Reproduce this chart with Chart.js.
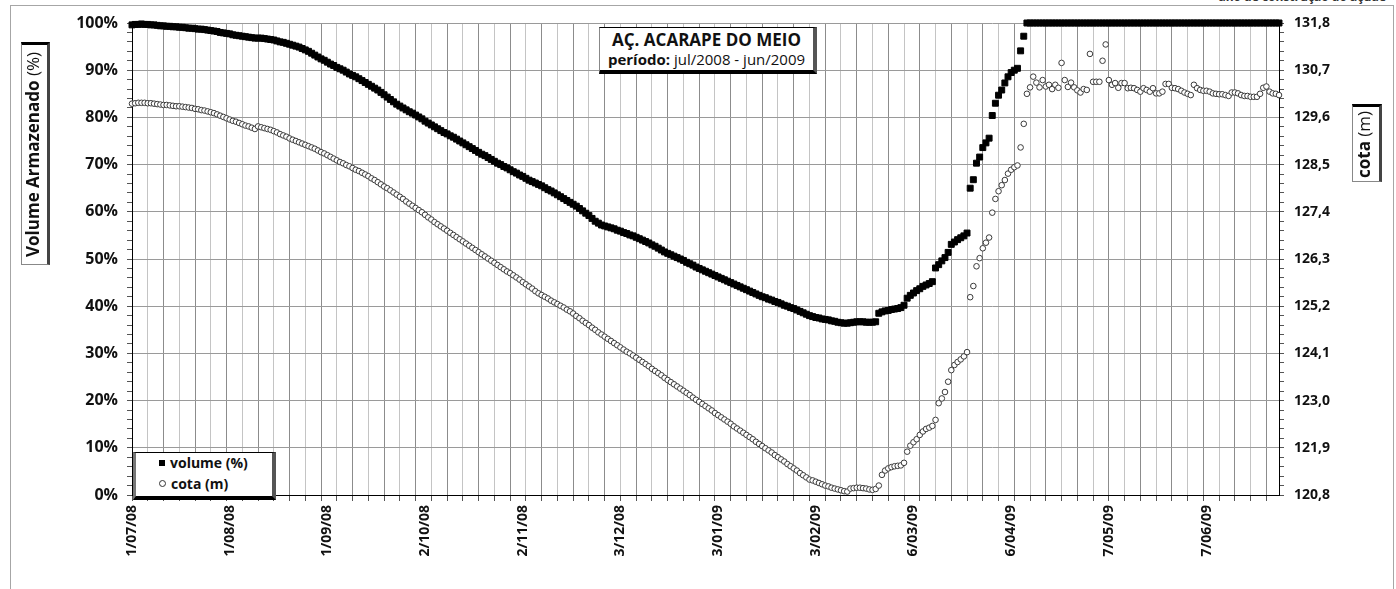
<!DOCTYPE html>
<html>
<head>
<meta charset="utf-8">
<title>Açude Acarape do Meio</title>
<script src="https://cdn.jsdelivr.net/npm/chart.js@4.4.1/dist/chart.umd.min.js"></script>
<style>
  body { margin: 0; background: #fff; }
  #wrap { position: relative; width: 1396px; height: 589px; overflow: hidden; font-family: "Open Sans", "Noto Sans", sans-serif; color: #111; }
  #chart { position: absolute; left: 0; top: 0; }
  .frame { position: absolute; left: 10px; top: 5px; width: 1382px; height: 620px; border: 1px solid #a6a6a6; }
  .topnote { position: absolute; right: 10px; top: -12px; font-size: 12px; font-weight: 700; color: #333; }
  .title-box { position: absolute; left: 599px; top: 27px; width: 213px; height: 42px; background: #fff;
    border-top: 1px solid #000; border-left: 1px solid #888; border-right: 4px solid #555; border-bottom: 4px solid #000; text-align: center; }
  .title-box .l1 { font-weight: 700; font-size: 17px; line-height: 20px; margin-top: 2px; }
  .title-box .l2 { font-size: 15px; line-height: 19px; }
  .legend-box { position: absolute; left: 133px; top: 452px; width: 136px; height: 43px; background: #fff;
    border-top: 1px solid #000; border-left: 3px solid #777; border-right: 4px solid #555; border-bottom: 4px solid #000; }
  .legend-box .row { position: absolute; left: 23px; font-size: 14px; font-weight: 700; line-height: 18px; white-space: nowrap; }
  .legend-box .sq { display: inline-block; width: 6px; height: 6px; background: #000; margin-right: 5px; vertical-align: 2px; }
  .legend-box .ci { display: inline-block; width: 5px; height: 5px; border: 1px solid #333; border-radius: 50%; margin-right: 5px; vertical-align: 2px; }
  .axis-title { position: absolute; writing-mode: vertical-rl; transform: rotate(180deg); background: #fff; text-align: center;
    font-size: 17px; line-height: 22px; white-space: nowrap;
    border-bottom: 3px solid #000; border-left: 3px solid #444; border-right: 1px solid #888; border-top: 1px solid #888; }
  .axis-title b { font-weight: 700; }
</style>
</head>
<body>
<div id="wrap">
  <div class="frame"></div>
  <div class="topnote">ano de construção do açude</div>
  <canvas id="chart" width="1396" height="589"></canvas>
  <div class="title-box">
    <div class="l1">AÇ. ACARAPE DO MEIO</div>
    <div class="l2"><b>período:</b> jul/2008 - jun/2009</div>
  </div>
  <div class="legend-box">
    <div class="row" style="top:1px"><span class="sq"></span>volume (%)</div>
    <div class="row" style="top:22px"><span class="ci"></span>cota (m)</div>
  </div>
  <div class="axis-title" style="left:21px; top:42px; width:25px; height:219px;"><b>Volume Armazenado</b> (%)</div>
  <div class="axis-title" style="left:1352px; top:104px; width:26px; height:74px;"><b>cota</b> (m)</div>
</div>
<script>
// daily readings, 1/07/2008 .. 30/06/2009
const startDay = Date.UTC(2008, 6, 1);
const dayCount = 365;

const xTickLabels = ["1/07/08", "1/08/08", "1/09/08", "2/10/08", "2/11/08", "3/12/08",
  "3/01/09", "3/02/09", "6/03/09", "6/04/09", "7/05/09", "7/06/09"];
const leftTickLabels = ["0%", "10%", "20%", "30%", "40%", "50%", "60%", "70%", "80%", "90%", "100%"];
const rightTickLabels = ["120,8", "121,9", "123,0", "124,1", "125,2", "126,3", "127,4", "128,5", "129,6", "130,7", "131,8"];

// volume armazenado (%)
const volume = [
  99.6,99.7,99.7,99.8,99.7,99.7,99.6,99.6,99.5,99.4,
  99.4,99.3,99.3,99.2,99.2,99.1,99.1,99.0,98.9,98.9,
  98.8,98.7,98.7,98.6,98.5,98.4,98.3,98.2,98.0,97.9,
  97.8,97.7,97.5,97.4,97.3,97.2,97.1,97.0,96.9,96.8,
  96.8,96.8,96.7,96.6,96.5,96.4,96.2,96.0,95.9,95.7,
  95.5,95.3,95.1,94.9,94.6,94.3,94.0,93.6,93.2,92.8,
  92.4,92.1,91.7,91.3,91.0,90.6,90.3,90.0,89.6,89.2,
  88.9,88.6,88.2,87.8,87.4,87.0,86.6,86.2,85.8,85.3,
  84.8,84.3,83.8,83.3,82.8,82.4,82.0,81.6,81.2,80.9,
  80.5,80.1,79.7,79.2,78.8,78.4,78.0,77.6,77.2,76.8,
  76.5,76.1,75.8,75.4,75.0,74.6,74.2,73.8,73.4,73.0,
  72.6,72.2,71.9,71.5,71.1,70.7,70.3,70.0,69.6,69.3,
  68.9,68.5,68.2,67.8,67.5,67.1,66.7,66.4,66.1,65.8,
  65.5,65.1,64.7,64.4,64.0,63.6,63.2,62.8,62.4,62.0,
  61.6,61.2,60.7,60.2,59.7,59.2,58.6,58.0,57.6,57.2,
  57.0,56.8,56.6,56.4,56.1,55.9,55.6,55.4,55.1,54.9,
  54.6,54.3,54.0,53.7,53.4,53.0,52.7,52.3,51.9,51.5,
  51.2,50.9,50.6,50.3,50.0,49.7,49.3,49.0,48.7,48.3,
  48.0,47.7,47.4,47.1,46.8,46.5,46.2,45.9,45.6,45.3,
  45.0,44.7,44.4,44.1,43.8,43.5,43.2,42.9,42.6,42.3,
  42.0,41.8,41.5,41.3,41.0,40.8,40.5,40.2,40.0,39.7,
  39.5,39.2,38.9,38.6,38.3,38.0,37.8,37.6,37.5,37.3,
  37.2,37.1,36.9,36.8,36.6,36.5,36.4,36.4,36.5,36.6,
  36.7,36.7,36.7,36.6,36.6,36.6,36.7,38.5,38.8,39.0,
  39.1,39.3,39.4,39.5,39.7,40.2,41.7,42.3,42.8,43.3,
  43.7,44.2,44.5,44.8,45.2,48.1,48.8,49.6,50.3,51.4,
  53.1,53.6,54.1,54.5,54.9,55.5,65.0,66.8,70.3,71.6,
  73.6,74.6,75.6,80.4,83.0,84.7,85.8,87.3,88.6,89.5,
  90.0,90.4,94.1,97.2,100,100,100,100,100,100,
  100,100,100,100,100,100,100,100,100,100,
  100,100,100,100,100,100,100,100,100,100,
  100,100,100,100,100,100,100,100,100,100,
  100,100,100,100,100,100,100,100,100,100,
  100,100,100,100,100,100,100,100,100,100,
  100,100,100,100,100,100,100,100,100,100,
  100,100,100,100,100,100,100,100,100,100,
  100,100,100,100,100
];

// cota (m)
const cota = [
  129.92,129.93,129.94,129.94,129.94,129.93,129.93,129.92,129.91,129.90,
  129.89,129.89,129.88,129.87,129.86,129.86,129.85,129.84,129.83,129.82,
  129.80,129.79,129.77,129.76,129.74,129.72,129.70,129.67,129.64,129.61,
  129.58,129.55,129.52,129.50,129.47,129.44,129.41,129.39,129.36,129.33,
  129.39,129.37,129.35,129.33,129.31,129.28,129.25,129.21,129.18,129.15,
  129.11,129.08,129.05,129.02,128.99,128.96,128.93,128.90,128.87,128.83,
  128.79,128.76,128.72,128.68,128.64,128.60,128.56,128.53,128.49,128.46,
  128.42,128.38,128.35,128.31,128.27,128.23,128.18,128.14,128.09,128.04,
  127.99,127.95,127.90,127.85,127.80,127.75,127.70,127.64,127.59,127.54,
  127.49,127.44,127.39,127.33,127.27,127.22,127.16,127.11,127.06,127.01,
  126.96,126.91,126.86,126.81,126.76,126.71,126.66,126.61,126.56,126.51,
  126.46,126.41,126.36,126.31,126.26,126.21,126.16,126.11,126.06,126.01,
  125.97,125.92,125.87,125.82,125.76,125.71,125.66,125.61,125.55,125.50,
  125.46,125.42,125.38,125.33,125.29,125.25,125.21,125.17,125.12,125.08,
  125.03,124.97,124.92,124.86,124.81,124.76,124.70,124.65,124.59,124.54,
  124.49,124.44,124.39,124.34,124.29,124.24,124.19,124.14,124.10,124.05,
  124.00,123.95,123.90,123.85,123.80,123.74,123.69,123.64,123.59,123.53,
  123.48,123.43,123.38,123.33,123.28,123.23,123.18,123.13,123.07,123.02,
  122.97,122.92,122.87,122.82,122.77,122.71,122.66,122.61,122.56,122.51,
  122.46,122.40,122.35,122.30,122.25,122.20,122.15,122.10,122.04,121.99,
  121.94,121.89,121.84,121.79,121.73,121.68,121.63,121.58,121.52,121.47,
  121.42,121.37,121.31,121.26,121.21,121.16,121.14,121.11,121.08,121.05,
  121.02,121.00,120.97,120.95,120.93,120.91,120.89,120.88,120.95,120.96,
  120.97,120.97,120.96,120.95,120.93,120.92,120.94,121.02,121.27,121.37,
  121.42,121.45,121.47,121.48,121.49,121.55,121.81,121.95,122.03,122.10,
  122.20,122.28,122.34,122.37,122.41,122.55,122.94,123.05,123.20,123.44,
  123.71,123.83,123.90,123.96,124.03,124.13,125.41,125.67,126.13,126.32,
  126.55,126.68,126.80,127.38,127.70,127.88,128.02,128.14,128.29,128.38,
  128.44,128.48,128.90,129.45,130.15,130.30,130.55,130.41,130.30,130.47,
  130.32,130.36,130.26,130.36,130.29,130.87,130.47,130.31,130.41,130.30,
  130.23,130.18,130.26,130.24,131.08,130.43,130.43,130.43,130.92,131.30,
  130.47,130.36,130.40,130.29,130.40,130.40,130.28,130.29,130.28,130.24,
  130.20,130.28,130.24,130.20,130.28,130.16,130.16,130.20,130.38,130.38,
  130.29,130.28,130.26,130.22,130.18,130.15,130.12,130.36,130.28,130.24,
  130.22,130.22,130.20,130.16,130.15,130.14,130.14,130.12,130.10,130.18,
  130.18,130.16,130.12,130.10,130.10,130.08,130.08,130.08,130.15,130.29,
  130.32,130.20,130.16,130.15,130.12
];

function dayLabel(i) {
  const d = new Date(startDay + i * 86400000);
  const mm = String(d.getUTCMonth() + 1).padStart(2, "0");
  const yy = String(d.getUTCFullYear()).slice(2);
  return d.getUTCDate() + "/" + mm + "/" + yy;
}

const days = [];
for (let i = 0; i < dayCount; i++) days.push(dayLabel(i));

const tickFont = { family: "'Open Sans', sans-serif", weight: "bold" };

new Chart(document.getElementById("chart"), {
  type: "line",
  data: {
    labels: days,
    datasets: [
      {
        label: "volume (%)", data: volume, yAxisID: "y", showLine: false, clip: false,
        pointStyle: "rect", pointRadius: 4.2, pointBackgroundColor: "#000", pointBorderColor: "#000", pointBorderWidth: 1
      },
      {
        label: "cota (m)", data: cota, yAxisID: "y1", showLine: false, clip: false,
        pointStyle: "circle", pointRadius: 2.8, pointBackgroundColor: "#fff", pointBorderColor: "#3a3a3a", pointBorderWidth: 1
      }
    ]
  },
  options: {
    responsive: false,
    animation: false,
    devicePixelRatio: 1,
    layout: { padding: { top: 23, left: 0, right: 0, bottom: 0 } },
    plugins: { legend: { display: false }, tooltip: { enabled: false } },
    scales: {
      x: {
        type: "category",
        afterFit: (s) => { s.height = 94; },
        border: { color: "#000", width: 1 },
        grid: {
          color: (c) => (c.index % 10 === 0 ? "#8c8c8c" : c.index % 5 === 0 ? "#c4c4c4" : "transparent"),
          tickColor: (c) => (c.index % 5 === 0 ? "#555" : "transparent"),
          tickLength: 6
        },
        ticks: {
          autoSkip: false, maxRotation: 90, minRotation: 90, padding: 4, color: "#111",
          font: { ...tickFont, size: 14 },
          callback: (v, i) => (xTickLabels.includes(days[i]) ? days[i] : "")
        }
      },
      y: {
        position: "left", min: 0, max: 100,
        afterFit: (s) => { s.width = 132; },
        border: { color: "#000", width: 1 },
        grid: {
          color: (c) => (c.index % 5 === 0 ? "#9a9a9a" : "transparent"),
          tickColor: "#555", tickLength: 5
        },
        ticks: {
          stepSize: 2, autoSkip: false, padding: 9, color: "#111",
          font: { ...tickFont, size: 16 },
          callback: (v, i) => (i % 5 === 0 ? leftTickLabels[i / 5] : "")
        }
      },
      y1: {
        position: "right", min: 120.8, max: 131.8,
        afterFit: (s) => { s.width = 117; },
        afterBuildTicks: (s) => {
          const t = [];
          for (let i = 0; i <= 50; i++) t.push({ value: 120.8 + i * 0.22 });
          s.ticks = t;
        },
        border: { color: "#000", width: 1 },
        grid: { drawOnChartArea: false, tickColor: "#555", tickLength: 5 },
        ticks: {
          autoSkip: false, padding: 10, color: "#111",
          font: { ...tickFont, size: 14 },
          callback: (v, i) => (i % 5 === 0 ? rightTickLabels[i / 5] : "")
        }
      }
    }
  }
});
</script>
</body>
</html>
